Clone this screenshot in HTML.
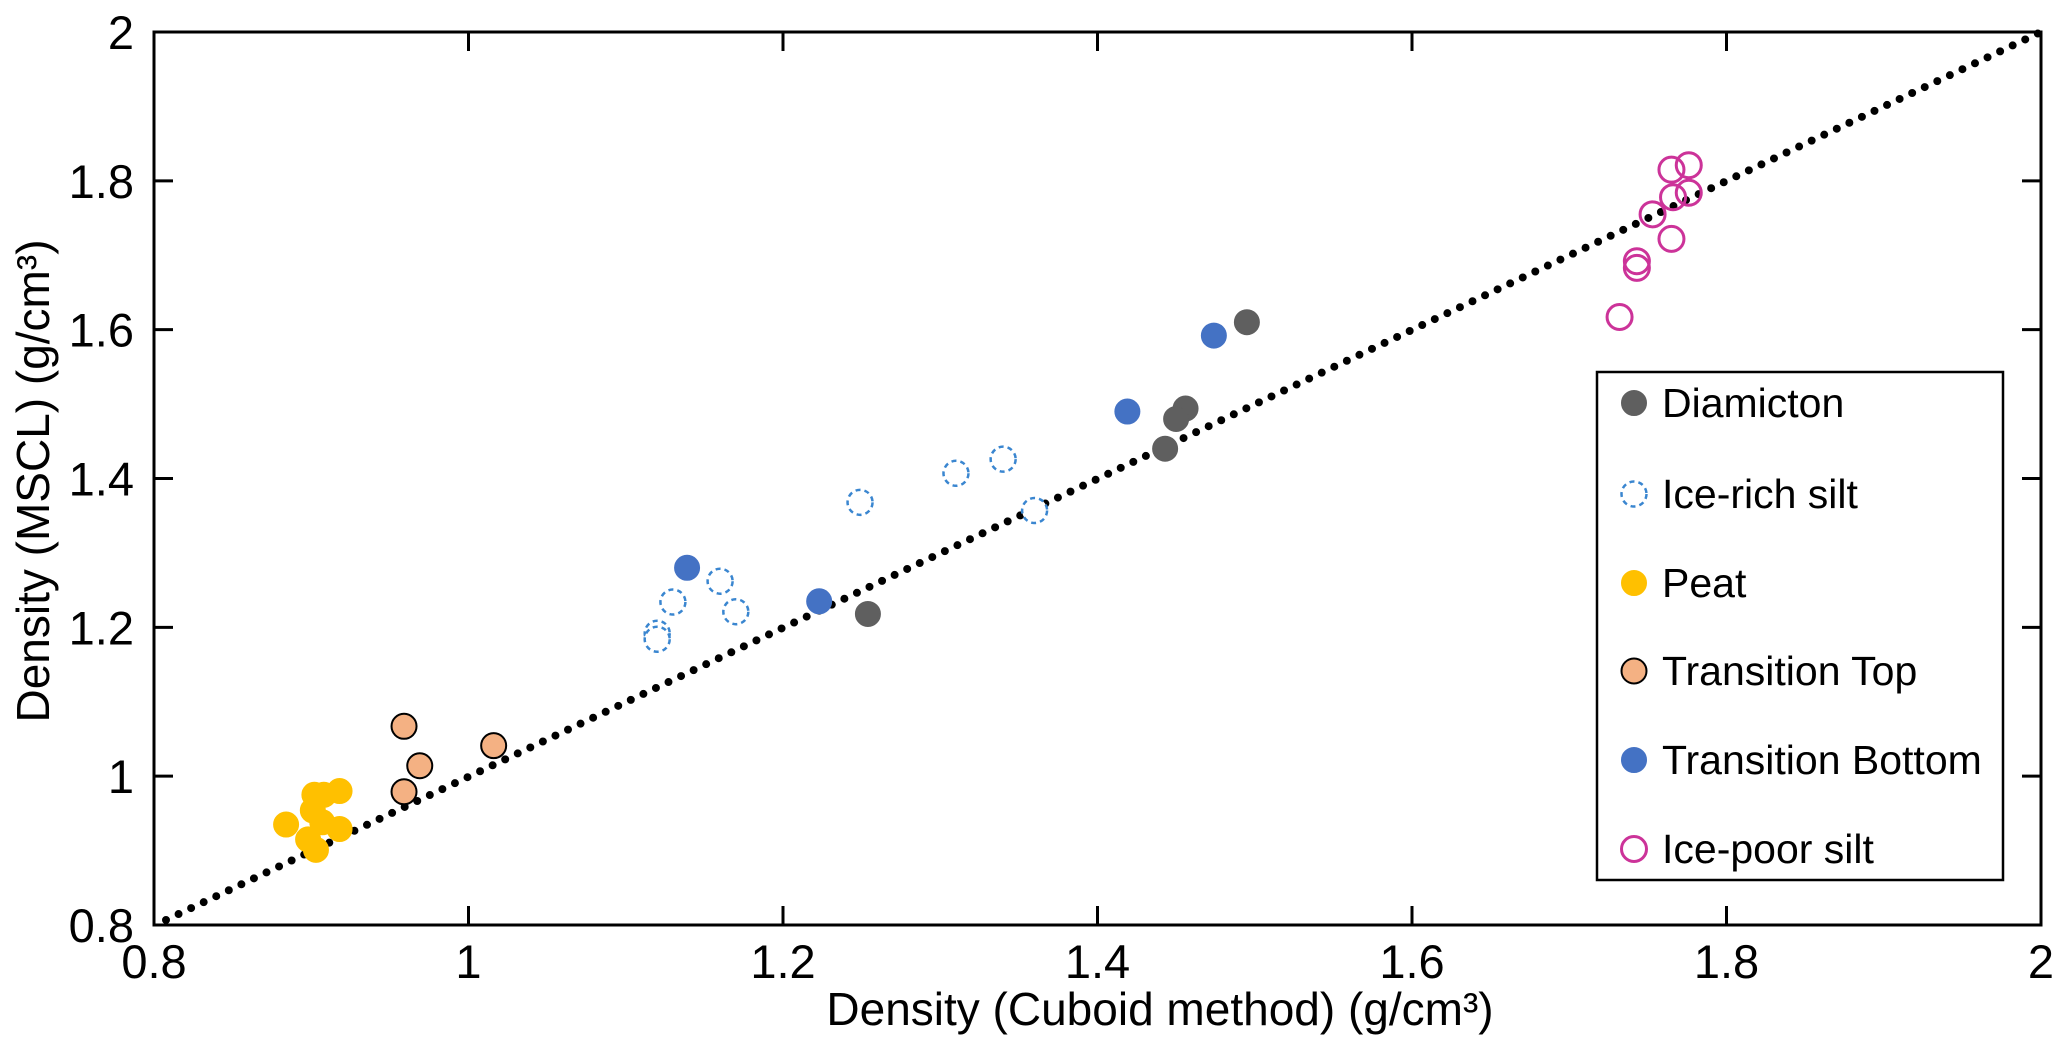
<!DOCTYPE html>
<html><head><meta charset="utf-8"><style>
html,body{margin:0;padding:0;background:#fff}
svg{display:block;font-family:"Liberation Sans",Arial,sans-serif}
</style></head><body>
<svg id="chart" width="2067" height="1054" viewBox="0 0 2067 1054">
<g id="plot"></g>
</svg>
<script>
const xTicks=[0.8,1,1.2,1.4,1.6,1.8,2];
const yTicks=[0.8,1,1.2,1.4,1.6,1.8,2];
const xTickLabels=["0.8","1","1.2","1.4","1.6","1.8","2"];
const yTickLabels=["0.8","1","1.2","1.4","1.6","1.8","2"];
const diamictonX=[1.495,1.456,1.45,1.443,1.254];
const diamictonY=[1.61,1.494,1.48,1.44,1.218];
const transBottomX=[1.474,1.419,1.139,1.223];
const transBottomY=[1.592,1.49,1.28,1.235];
const iceRichX=[1.249,1.31,1.34,1.36,1.16,1.17,1.13,1.12,1.12];
const iceRichY=[1.368,1.407,1.426,1.357,1.262,1.221,1.234,1.192,1.184];
const peatX=[0.884,0.902,0.908,0.918,0.901,0.898,0.903,0.918,0.907];
const peatY=[0.935,0.975,0.975,0.98,0.954,0.915,0.901,0.929,0.938];
const transTopX=[0.959,0.969,0.959,1.016];
const transTopY=[1.067,1.014,0.979,1.041];
const icePoorX=[1.776,1.765,1.766,1.776,1.753,1.765,1.743,1.743,1.732];
const icePoorY=[1.821,1.815,1.778,1.784,1.755,1.722,1.692,1.683,1.617];
const legendLabels=["Diamicton","Ice-rich silt","Peat","Transition Top","Transition Bottom","Ice-poor silt"];

const NS="http://www.w3.org/2000/svg";
const L=154,R=2041,T=32,B=925;
const sx=v=>L+(v-0.8)/1.2*(R-L);
const sy=v=>B-(v-0.8)/1.2*(B-T);
const g=document.getElementById('plot');
function mk(tag,attrs,parent){const e=document.createElementNS(NS,tag);for(const k in attrs)e.setAttribute(k,attrs[k]);(parent||g).appendChild(e);return e;}

const idl=mk('line',{x1:sx(0.8)+12,y1:sy(0.8)-5,x2:sx(2),y2:sy(2),stroke:'#000','stroke-width':8,'stroke-dasharray':'0 13.9','stroke-linecap':'round'});



const styles=[
 {x:diamictonX,y:diamictonY,fill:'#5f5f5f',stroke:'#5f5f5f',sw:1,dash:null,name:'diamicton-point'},
 {x:iceRichX,y:iceRichY,fill:'#fff',stroke:'#3a86d0',sw:2.5,dash:'5 4',name:'ice-rich-silt-point'},
 {x:peatX,y:peatY,fill:'#ffc000',stroke:'#ffc000',sw:1,dash:null,name:'peat-point'},
 {x:transTopX,y:transTopY,fill:'#f4b183',stroke:'#000',sw:2,dash:null,name:'transition-top-point'},
 {x:transBottomX,y:transBottomY,fill:'#4472c4',stroke:'#4472c4',sw:1,dash:null,name:'transition-bottom-point'},
 {x:icePoorX,y:icePoorY,fill:'none',stroke:'#cc3399',sw:3,dash:null,name:'ice-poor-silt-point'}
];
styles.forEach(s=>{
 for(let i=0;i<s.x.length;i++){
  const a={cx:sx(s.x[i]),cy:sy(s.y[i]),r:12.5,fill:s.fill,stroke:s.stroke,'stroke-width':s.sw};
  if(s.dash)a['stroke-dasharray']=s.dash;
  const c=mk('circle',a);
  
  
 }
});

const fr=mk('rect',{x:L,y:T,width:R-L,height:B-T,fill:'none',stroke:'#000','stroke-width':3});


xTicks.forEach((v,i)=>{
 const x=sx(v);
 mk('line',{x1:x,y1:B,x2:x,y2:B-19,stroke:'#000','stroke-width':3});
 mk('line',{x1:x,y1:T,x2:x,y2:T+19,stroke:'#000','stroke-width':3});
 const t=mk('text',{x:x,y:978,'font-size':47,'text-anchor':'middle',fill:'#000'});
 t.textContent=xTickLabels[i];
 
 
});
yTicks.forEach((v,i)=>{
 const y=sy(v);
 mk('line',{x1:L,y1:y,x2:L+19,y2:y,stroke:'#000','stroke-width':3});
 mk('line',{x1:R,y1:y,x2:R-19,y2:y,stroke:'#000','stroke-width':3});
 const t=mk('text',{x:134,y:y+17,'font-size':47,'text-anchor':'end',fill:'#000'});
 t.textContent=yTickLabels[i];
 
 
});
const xt=mk('text',{x:1160,y:1025,'font-size':46,'text-anchor':'middle'});
xt.textContent='Density (Cuboid method) (g/cm³)';


const yt=mk('text',{x:0,y:0,'font-size':46,'text-anchor':'middle',transform:'translate(49,481) rotate(-90)'});
yt.textContent='Density (MSCL) (g/cm³)';



const lg=mk('g',{});


mk('rect',{x:1597,y:372,width:406,height:508,fill:'#fff',stroke:'#000','stroke-width':2.5},lg);
const ly=[403,494,583,671,760,849];
legendLabels.forEach((lab,i)=>{
 const s=styles[i];
 const ent=mk('g',{},lg);
 
 
 const a={cx:1634,cy:ly[i],r:12.5,fill:s.fill,stroke:s.stroke,'stroke-width':s.sw};
 if(s.dash)a['stroke-dasharray']=s.dash;
 mk('circle',a,ent);
 const t=mk('text',{x:1662,y:ly[i]+14,'font-size':41},ent);
 t.textContent=lab;
});
</script>
</body></html>
